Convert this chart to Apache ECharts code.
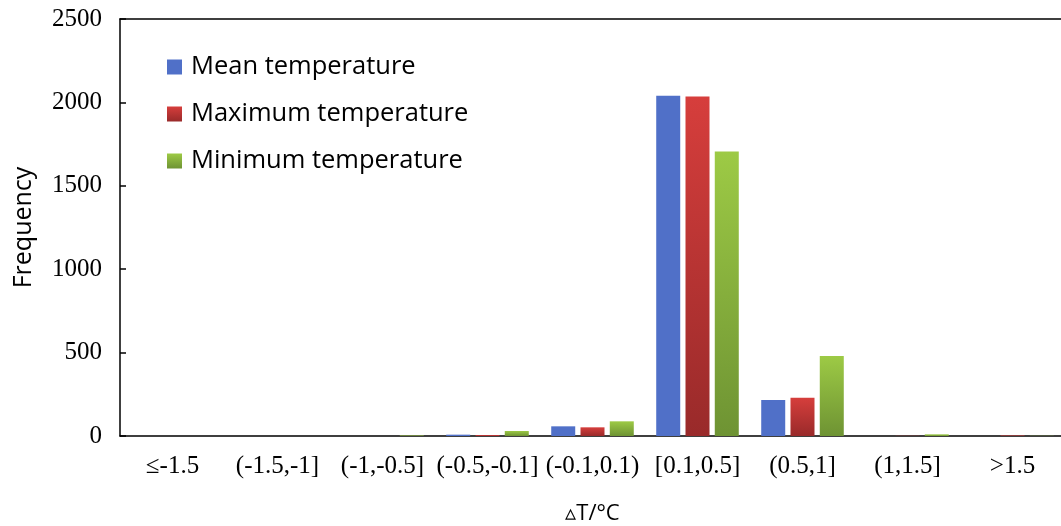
<!DOCTYPE html>
<html>
<head>
<meta charset="utf-8">
<script src="https://cdn.jsdelivr.net/npm/echarts@6/dist/echarts.min.js"></script>
<style>
  html, body { margin: 0; padding: 0; background: #fff; }
  #chart { width: 1061px; height: 526px; }
</style>
</head>
<body>
<div id="chart"></div>
<script>
// categories of temperature difference
var categories = ['≤-1.5', '(-1.5,-1]', '(-1,-0.5]', '(-0.5,-0.1]', '(-0.1,0.1)', '[0.1,0.5]', '(0.5,1]', '(1,1.5]', '>1.5']
var meanTemp = [0, 0, 0, 8, 58, 2040, 216, 0, 0]
var maxTemp = [0, 0, 0, 6, 52, 2035, 230, 1, 3]
var minTemp = [0, 0, 3, 30, 88, 1705, 480, 10, 1]
var yTicks = [0, 500, 1000, 1500, 2000, 2500]

var chart = echarts.init(document.getElementById('chart'))

function grad (top, bottom) {
  return new echarts.graphic.LinearGradient(0, 0, 0, 1, [
    { offset: 0, color: top },
    { offset: 1, color: bottom }
  ])
}

var option = {
  backgroundColor: '#fff',
  animation: false,
  grid: {
    left: 120,
    right: -4,
    top: 19,
    bottom: 90,
    outerBoundsMode: 'none',
    containLabel: false
  },
  legend: {
    orient: 'vertical',
    left: 162,
    top: 49,
    itemWidth: 15,
    itemHeight: 15,
    itemGap: 21,
    icon: 'rect',
    textStyle: {
      fontFamily: 'Open Sans',
      fontSize: 25.5,
      color: '#000',
      padding: [0, 0, 0, 4]
    },
    data: ['Mean temperature', 'Maximum temperature', 'Minimum temperature']
  },
  xAxis: [
    {
      type: 'category',
      data: categories,
      name: '\u25B5T/°C',
      nameLocation: 'middle',
      nameGap: 67,
      nameTextStyle: { fontFamily: 'Open Sans', fontSize: 22, color: '#000' },
      axisLine: { lineStyle: { color: '#000', width: 1.5 } },
      axisTick: { inside: true, length: 6, lineStyle: { color: '#000', width: 1.5 } },
      axisLabel: { fontFamily: 'Liberation Serif', fontSize: 25, color: '#000', margin: 18, interval: 0 }
    },
    {
      // top frame line only
      type: 'category',
      data: categories,
      position: 'top',
      axisLine: { show: true, lineStyle: { color: '#000', width: 1.5 } },
      axisTick: { show: false },
      axisLabel: { show: false }
    }
  ],
  yAxis: {
    type: 'value',
    min: yTicks[0],
    max: yTicks[yTicks.length - 1],
    interval: 500,
    name: 'Frequency',
    nameLocation: 'middle',
    nameGap: 84,
    nameTextStyle: { fontFamily: 'Open Sans', fontSize: 25, color: '#000' },
    axisLine: { show: true, lineStyle: { color: '#000', width: 1.5 } },
    axisTick: { show: true, inside: true, length: 6, lineStyle: { color: '#000', width: 1.5 } },
    axisLabel: {
      fontFamily: 'Liberation Serif',
      fontSize: 25,
      color: '#000',
      margin: 18,
      formatter: function (v) { return String(v) }
    },
    splitLine: { show: false }
  },
  series: [
    {
      name: 'Mean temperature',
      type: 'bar',
      barWidth: 24,
      barGap: '22%',
      itemStyle: { color: '#5070C8' },
      data: meanTemp
    },
    {
      name: 'Maximum temperature',
      type: 'bar',
      barWidth: 24,
      barGap: '22%',
      itemStyle: { color: grad('#D63E3C', '#992A2A') },
      data: maxTemp
    },
    {
      name: 'Minimum temperature',
      type: 'bar',
      barWidth: 24,
      barGap: '22%',
      itemStyle: { color: grad('#9DCA45', '#6E9333') },
      data: minTemp
    }
  ]
}
chart.setOption(option)
</script>
</body>
</html>
